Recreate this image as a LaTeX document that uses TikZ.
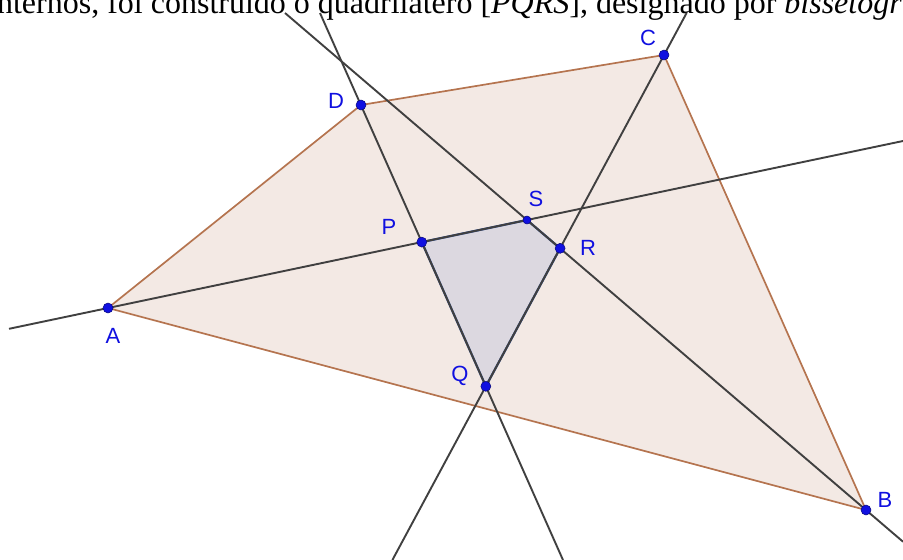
\documentclass[tikz,border=0pt]{standalone}
\usepackage{fontspec}
\setmainfont{Liberation Serif}
\newfontfamily\labelfont{Liberation Sans}
\usepackage{tikz}
\usepackage{xcolor}
\usetikzlibrary{positioning, calc}
\definecolor{qFill}{HTML}{F3E9E4}
\definecolor{qEdge}{HTML}{B5744F}
\definecolor{bFill}{HTML}{DCD8E0}
\definecolor{bEdge}{HTML}{2B4A90}
\definecolor{lineGray}{HTML}{404040}
\definecolor{ptBlue}{HTML}{1010E0}

\begin{document}
\begin{tikzpicture}[x=1pt, y=-1pt,
  bisline/.style={draw=lineGray, line width=1.9pt},
  ptdot/.style={circle, fill=ptBlue, draw=ptBlue!55!black, line width=0.5pt,
                inner sep=0pt, minimum size=10pt},
  ptlab/.style={font=\labelfont\fontsize{22}{22}\selectfont, text=ptBlue, inner sep=0pt},
]
  \useasboundingbox (0,0) rectangle (903,560);
  \clip (0,0) rectangle (903,560);

  % Top line of the page text, cut at the edges
  \node[anchor=base west, inner sep=0pt, font=\fontsize{32}{32}\selectfont] (txt) at (-12,13)
    {internos, foi construído o quadrilátero [\textit{PQRS}], designado por \textit{bissetogr}};

  % Vertices of [ABCD]
  \coordinate (A) at (108,308);
  \coordinate (B) at (866,510);
  \coordinate (C) at (664,55);
  \coordinate (D) at (361,105);

  % Free ends of the four bisectors
  \coordinate (a1) at (9,328.8);   \coordinate (a2) at (903,141);
  \coordinate (d1) at (320,13);    \coordinate (d2) at (563,560);
  \coordinate (c1) at (686.6,13);  \coordinate (c2) at (392.4,560);
  \coordinate (b1) at (285,13);    \coordinate (b2) at (903,541.7);

  % Vertices of [PQRS]
  \coordinate (P) at (intersection of a1--a2 and d1--d2);
  \coordinate (Q) at (intersection of d1--d2 and c1--c2);
  \coordinate (R) at (intersection of c1--c2 and b1--b2);
  \coordinate (S) at (intersection of a1--a2 and b1--b2);

  \filldraw[fill=qFill, draw=qEdge, line width=1.7pt] (A) -- (B) -- (C) -- (D) -- cycle;
  \filldraw[fill=bFill, draw=bEdge, line width=2.2pt, line join=round] (P) -- (Q) -- (R) -- (S) -- cycle;

  \foreach \s in {a, d, c, b} {
    \draw[bisline] (\s1) -- (\s2);
  }

  \foreach \p in {A, B, C, D, P, Q, R} {
    \node[ptdot] (dot\p) at (\p) {};
  }
  \node[ptdot, minimum size=8pt] (dotS) at (S) {};

  % Point labels
  \node[ptlab] (labA) at (113,336) {A};
  \node[ptlab] (labB) at (885,500) {B};
  \node[ptlab] (labC) at (648,38) {C};
  \node[ptlab] (labD) at (336,101) {D};
  \node[ptlab] (labP) at (389,227) {P};
  \node[ptlab] (labQ) at (460,376) {Q};
  \node[ptlab] (labR) at (588,248) {R};
  \node[ptlab] (labS) at (536,199) {S};
\end{tikzpicture}
\end{document}
